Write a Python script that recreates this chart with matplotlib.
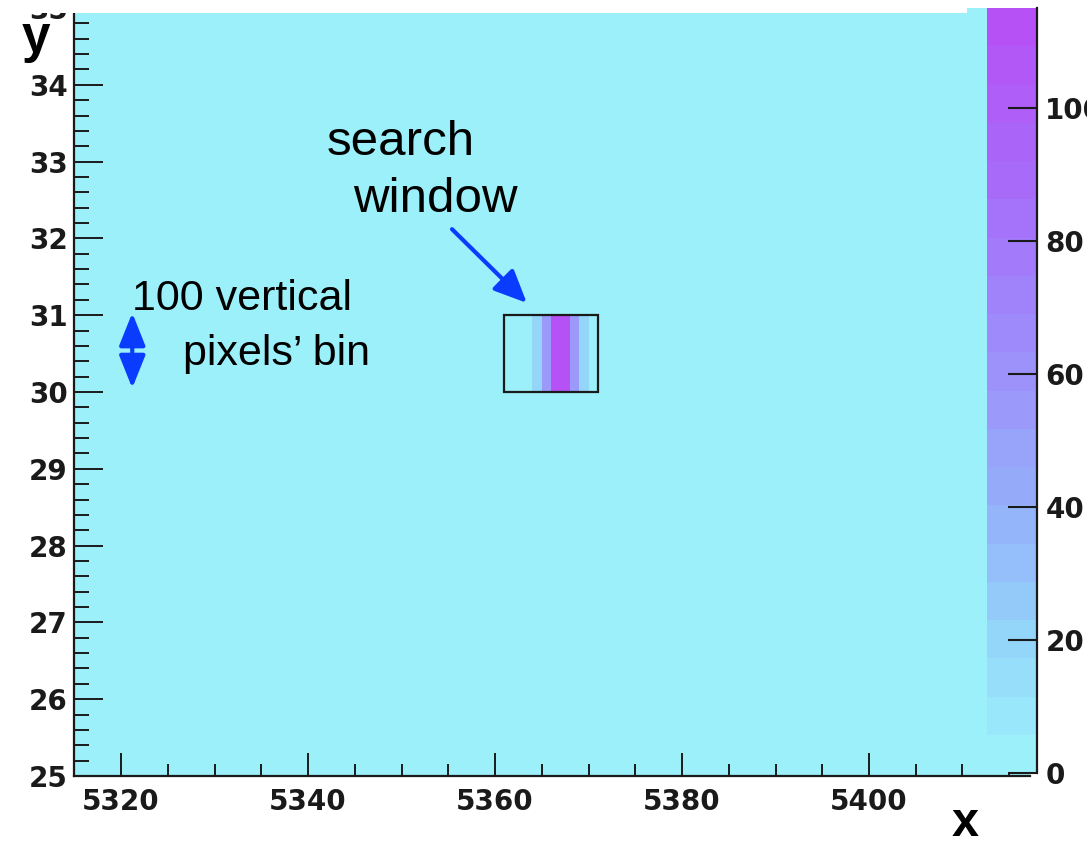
import numpy as np
import matplotlib
matplotlib.use("Agg")
import matplotlib.pyplot as plt
from matplotlib.colors import LinearSegmentedColormap, ListedColormap, Normalize
from matplotlib.patches import Rectangle
from matplotlib.ticker import MultipleLocator

# ---- data -------------------------------------------------------------
x_range = (5314.97, 5417.22)          # horizontal pixel coordinate shown
y_range = (25.0, 35.0)                # vertical bin index (100 pixels each)
x_bin_edges = np.arange(5314, 5419)   # 1-pixel wide bins
y_bin_edges = np.arange(25, 36)       # 1 bin = 100 vertical pixels

window_row = 30                                   # y bin holding the signal
window_cols = [5364, 5365, 5366, 5367, 5368, 5369]
window_counts = [19, 57, 115, 111, 56, 18]

search_box = (5361, 30, 10, 1)        # x0, y0, width, height
z_max = 115
z_ticks = [0, 20, 40, 60, 80, 100]
n_levels = 20

# ---- histogram --------------------------------------------------------
counts = np.zeros((len(y_bin_edges) - 1, len(x_bin_edges) - 1))
row = window_row - y_bin_edges[0]
for col, c in zip(window_cols, window_counts):
    counts[row, col - x_bin_edges[0]] = c

anchors = [
    (0.00, (155, 240, 250)),
    (0.16, (148, 212, 250)),
    (0.35, (148, 174, 250)),
    (0.50, (156, 150, 250)),
    (0.70, (162, 120, 250)),
    (0.86, (172, 98, 248)),
    (1.00, (182, 82, 245)),
]
base = LinearSegmentedColormap.from_list(
    "palette", [(t, tuple(v / 255 for v in c)) for t, c in anchors])
cmap = ListedColormap(base(np.linspace(0, 1, n_levels)))
norm = Normalize(0, z_max)

plt.rcParams["font.family"] = "DejaVu Sans"
plt.rcParams["font.weight"] = "bold"

W, H = 1087, 843
fig = plt.figure(figsize=(W / 100, H / 100), dpi=100)
ax = fig.add_axes([74 / W, (H - 776) / H, 956 / W, 768 / H])

mesh = ax.pcolormesh(x_bin_edges, y_bin_edges, counts, cmap=cmap, norm=norm,
                     shading="flat", edgecolors="none", antialiased=False)
ax.add_patch(Rectangle(search_box[:2], search_box[2], search_box[3],
                       fill=False, edgecolor="#1a1a1a", lw=1.6, zorder=3))

ax.set_xlim(*x_range)
ax.set_ylim(*y_range)
ax.xaxis.set_major_locator(MultipleLocator(20))
ax.xaxis.set_minor_locator(MultipleLocator(5))
ax.yaxis.set_major_locator(MultipleLocator(1))
ax.yaxis.set_minor_locator(MultipleLocator(0.2))
ax.tick_params(which="both", direction="in", top=False, right=False,
               color="#1a1a1a", width=1.4, labelsize=20, labelcolor="#1a1a1a")
ax.tick_params(axis="x", which="major", length=16.5, pad=9)
ax.tick_params(axis="x", which="minor", length=8.6)
ax.tick_params(axis="y", which="major", length=20.9, pad=4.5)
ax.tick_params(axis="y", which="minor", length=10.8)
for side in ("top", "right"):
    ax.spines[side].set_visible(False)
for side in ("left", "bottom"):
    ax.spines[side].set_linewidth(1.6)
    ax.spines[side].set_color("#1a1a1a")

# ---- palette ----------------------------------------------------------
cax = fig.add_axes([987 / W, (H - 773) / H, 50 / W, 765 / H])
cb = fig.colorbar(mesh, cax=cax, ticks=z_ticks)
cb.outline.set_visible(False)
cb.minorticks_off()
cax.yaxis.set_ticks_position("right")
cax.tick_params(direction="in", length=20.9, width=1.5, pad=6,
                labelsize=20, color="#1a1a1a", labelcolor="#1a1a1a")
cax.plot([1, 1], [0, 1.0], transform=cax.transAxes, color="#1a1a1a",
         lw=1.6, clip_on=False)

# ---- annotations ------------------------------------------------------
blue = "#0A3CFF"
txt = dict(family="Liberation Sans", fontweight="normal", color="black",
           ha="left", va="baseline")
ax.text(5342.0, 33.09, "search", fontsize=35.5, **txt)
ax.text(5344.8, 32.34, "window", fontsize=35.5, **txt)
ax.annotate("", xy=(5363.4, 31.16), xytext=(5355.4, 32.12),
            arrowprops=dict(arrowstyle="-|>,head_length=1.0,head_width=0.45",
                            mutation_scale=20, lw=3, color=blue,
                            shrinkA=0, shrinkB=0))

ax.text(5321.2, 31.07, "100 vertical", fontsize=31, **txt)
ax.text(5326.6, 30.35, "pixels\u2019 bin", fontsize=31, **txt)
ax.annotate("", xy=(5321.2, 30.05), xytext=(5321.2, 31.03),
            arrowprops=dict(arrowstyle="<|-|>,head_length=1.0,head_width=0.4",
                            mutation_scale=20, lw=3, color=blue,
                            shrinkA=0, shrinkB=0))

# axis titles
fig.text(22 / W, 1 - 52 / H, "y", family="Liberation Sans", fontweight="bold",
         fontsize=37, ha="left", va="baseline")
fig.text(965 / W, 1 - 836 / H, "x", family="Liberation Sans", fontweight="bold",
         fontsize=35, ha="center", va="baseline")

# white band along the top edge
fig.add_artist(Rectangle((0, 1 - 13 / H), 967 / W, 13 / H,
                         transform=fig.transFigure, facecolor="white",
                         edgecolor="none", zorder=10))

fig.savefig("out.png", dpi=100)
